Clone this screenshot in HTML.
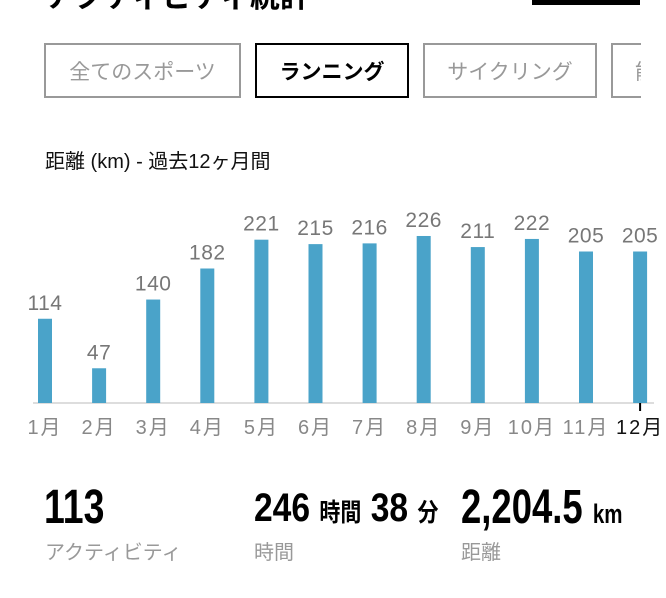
<!DOCTYPE html>
<html><head><meta charset="utf-8"><style>
body{margin:0;width:666px;height:598px;background:#fff;overflow:hidden;font-family:"Liberation Sans","Noto Sans CJK JP",sans-serif;position:relative}
.abs{position:absolute}
.btn{position:absolute;top:43px;height:55px;border:2px solid #999;box-sizing:border-box;color:#999;font-size:21px;display:flex;align-items:center;justify-content:center;background:#fff}
.big{font-weight:bold;font-family:"Liberation Sans Narrow","Liberation Sans","Noto Sans CJK JP",sans-serif;transform-origin:left top;white-space:nowrap;color:#000}
.lab{font-size:20px;color:#999}
</style></head><body>
<div class="abs" style="left:45px;top:-28px;font-size:30px;font-weight:bold;">アクティビティ統計</div>
<div class="abs" style="left:532px;top:0;width:108px;height:5px;background:#000"></div>
<div class="btn" style="left:44px;width:197px">全てのスポーツ</div>
<div class="btn" style="left:255px;width:154px;border-color:#000;color:#000;font-weight:bold">ランニング</div>
<div class="btn" style="left:423px;width:174px">サイクリング</div>
<div class="abs" style="left:0;top:0;width:641px;height:110px;overflow:hidden">
<div class="btn" style="left:611px;width:100px;justify-content:flex-start;padding-left:22px">能</div></div>
<div class="abs" style="left:45px;top:145px;font-size:20px;color:#111">距離 (km) - 過去12ヶ月間</div>
<svg class="abs" style="left:0;top:0" width="666" height="460" id="chart"></svg>
<div class="abs big" style="left:44px;top:480px;font-size:48px;transform:scaleX(0.78)">113</div>
<div class="abs lab" style="left:45px;top:536px">アクティビティ</div>
<div class="abs big" style="left:254px;top:486px;font-size:40px;transform:scaleX(0.84)">246 <span style="font-size:25px">時間</span> 38 <span style="font-size:25px">分</span></div>
<div class="abs lab" style="left:254px;top:536px">時間</div>
<div class="abs big" style="left:461px;top:480px;font-size:48px;transform:scaleX(0.76)">2,204.5 <span style="font-size:27px">km</span></div>
<div class="abs lab" style="left:461px;top:536px">距離</div>
<script>
const months=["1月","2月","3月","4月","5月","6月","7月","8月","9月","10月","11月","12月"];
const values=[114,47,140,182,221,215,216,226,211,222,205,205];
const svg=document.getElementById('chart');
const NS="http://www.w3.org/2000/svg";
const base=403,scale=0.739,x0=45,step=54.1,bw=14;
function xs(i){return x0+i*step}
function ys(v){return base-v*scale}
function mk(t,a){const e=document.createElementNS(NS,t);for(const k in a)e.setAttribute(k,a[k]);svg.appendChild(e);return e}
const ax=mk('line',{x1:33,x2:654,y1:base,y2:base,stroke:'#ddd','stroke-width':2});


values.forEach((v,i)=>{
 const r=mk('rect',{x:xs(i)-bw/2,y:ys(v),width:bw,height:v*scale,fill:'#4aa3c9'});
 
 
 const t=mk('text',{x:xs(i),y:ys(v)-9,'text-anchor':'middle','font-size':21,fill:'#777','font-family':'Liberation Sans','letter-spacing':0.5});
 t.textContent=v;
 
 
 const last=i===months.length-1;
 const m=mk('text',{x:xs(i),y:434,'text-anchor':'middle','font-size':20,fill:last?'#111':'#888','letter-spacing':2,'font-family':'Liberation Sans, Noto Sans CJK JP, sans-serif'});
 m.textContent=months[i];
 
 
 if(last){const tk=mk('line',{x1:xs(i),x2:xs(i),y1:base,y2:411,stroke:'#000','stroke-width':2});
 
 }
});
</script>
</body></html>
